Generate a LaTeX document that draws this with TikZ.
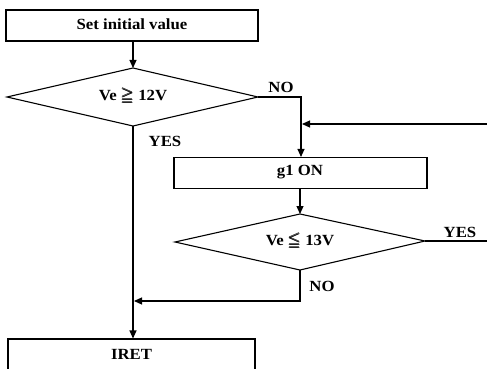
\documentclass[tikz,border=0pt]{standalone}
\usepackage{amsmath,amssymb}
\usepackage{fontspec}
\setmainfont{Liberation Serif}
\usetikzlibrary{shapes.geometric,arrows.meta}
\begin{document}
\begin{tikzpicture}[x=1pt,y=-1pt,
  line width=1.1pt,
  lbl/.style={font=\bfseries\fontsize{15.5}{17}\selectfont, inner sep=0pt, xscale=1.08},
  arr/.style={-{Triangle[length=8pt,width=7pt]}},
  procbox/.style={draw, minimum height=31pt, inner sep=0pt},
  ]
\useasboundingbox (0,0) rectangle (487,369);
\clip (0,0) rectangle (487,369);
% boxes
\node[procbox, minimum width=252pt] (init) at (132,25.5) {};
\node[lbl] (initlbl) at (132,24) {Set initial value};
\node[procbox, minimum width=253pt] (g1) at (300.5,173) {};
\node[lbl] (g1lbl) at (300,172) {g1 ON};
\node[draw, minimum width=247pt, minimum height=40pt, inner sep=0pt] (iret) at (131.5,359) {};
\node[lbl] (iretlbl) at (131.5,354) {IRET};
% diamonds
\coordinate (d1t) at (133,68);
\coordinate (d1l) at (7,97);
\coordinate (d1r) at (258,97);
\coordinate (d1b) at (133,126);
\draw (d1t) -- (d1r) -- (d1b) -- (d1l) -- cycle;
\node[lbl] (d1txt) at (133,96) {Ve $\pmb{\geqq}$ 12V};
\coordinate (d2t) at (300,214);
\coordinate (d2l) at (175,242);
\coordinate (d2r) at (425,241);
\coordinate (d2b) at (300,270);
\draw (d2t) -- (d2r) -- (d2b) -- (d2l) -- cycle;
\node[lbl] (d2txt) at (300,241) {Ve $\pmb{\leqq}$ 13V};
% connectors
\draw[arr] (init.south -| d1t) -- (d1t);
\coordinate (c1) at (301,97);
\draw[arr] (d1r) -- (c1) -- (c1 |- g1.north);
\coordinate (inR) at (487,124);
\coordinate (inL) at (302,124);
\draw[arr] (inR) -- (inL);
\draw[arr] (d1b) -- (d1b |- iret.north);
\draw[arr] (g1.south -| d2t) -- (d2t);
\coordinate (r2) at (487,241);
\draw (d2r) -- (r2);
\coordinate (c2) at (300,301);
\coordinate (c3) at (134,301);
\draw[arr] (d2b) -- (c2) -- (c3);
% labels
\node[lbl] (no1) at (281,87) {NO};
\node[lbl] (yes1) at (165,141) {YES};
\node[lbl] (yes2) at (460,232) {YES};
\node[lbl] (no2) at (322,286) {NO};
\end{tikzpicture}
\end{document}
